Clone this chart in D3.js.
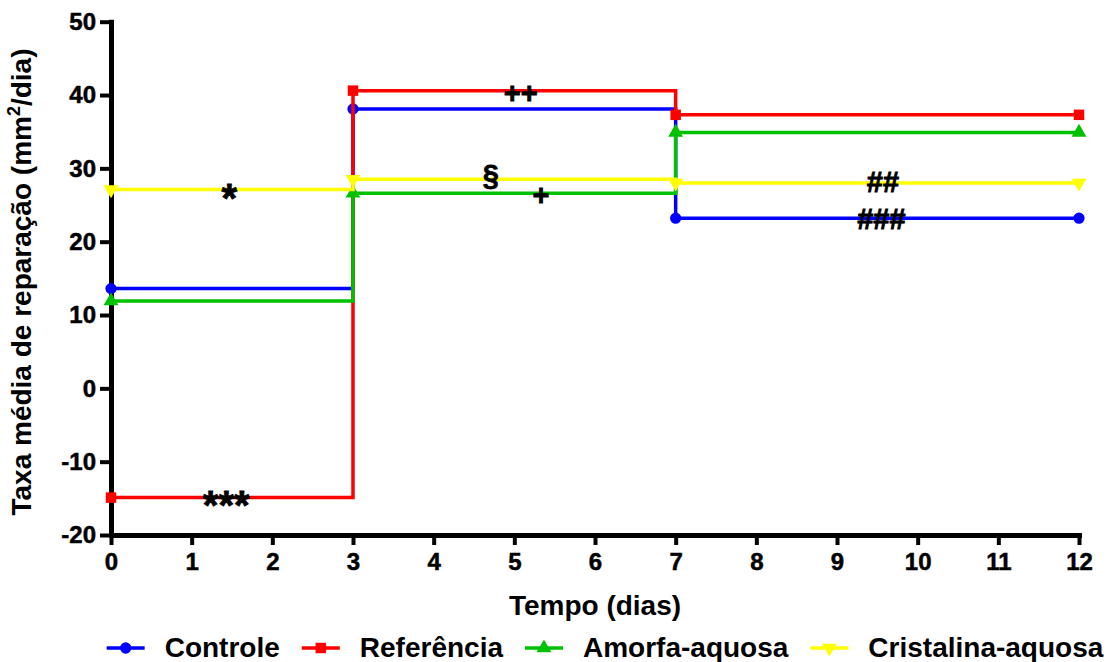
<!DOCTYPE html>
<html>
<head>
<meta charset="utf-8">
<script src="https://cdn.jsdelivr.net/npm/d3@7"></script>
<style>
  html, body { margin: 0; padding: 0; background: #fff; }
  svg { display: block; }
  text { font-family: "Liberation Sans", Arial, sans-serif; font-weight: bold; fill: #000; }
</style>
</head>
<body>
<svg id="chart" width="1108" height="662"></svg>
<script>
// Days of measurement
const days = [0, 3, 7, 12];

// Mean repair rate (mm²/day) per group at each day
const controle   = [13.6, 38.1, 23.2, 23.2];
const referencia = [-14.9, 40.6, 37.3, 37.3];
const amorfa     = [11.9, 26.6, 34.9, 34.9];
const cristalina = [27.1, 28.5, 28.0, 28.0];

const seriesNames = ["Controle", "Referência", "Amorfa-aquosa", "Cristalina-aquosa"];
const seriesValues = [controle, referencia, amorfa, cristalina];

// Axis ticks
const xTicks = [0, 1, 2, 3, 4, 5, 6, 7, 8, 9, 10, 11, 12];
const yTicks = [-20, -10, 0, 10, 20, 30, 40, 50];

// Significance marks: label, day, value (text baseline)
const markLabels = ["*", "***", "++", "§", "+", "##", "###"];
const markX      = [1.466, 1.428, 5.08, 4.71, 5.33, 9.57, 9.55];
const markY      = [24.05, -17.8, 38.9, 27.7, 25.0, 26.8, 21.7];

// Styling
const colors = ["#0000FF", "#FF0000", "#00C000", "#FFFF00"];
const symbols = [d3.symbolCircle, d3.symbolSquare, d3.symbolTriangle, "down"];

const svg = d3.select("#chart");

const x = d3.scaleLinear().domain([0, 12]).range([111, 1079]);
const y = d3.scaleLinear().domain([-20, 50]).range([535, 21.7]);

function markerPath(sym) {
  if (sym === "down") return d3.symbol().type(d3.symbolTriangle).size(95)();
  if (sym === d3.symbolCircle) return d3.symbol().type(sym).size(100)();
  if (sym === d3.symbolSquare) return d3.symbol().type(sym).size(110)();
  return d3.symbol().type(sym).size(95)();
}
function markerTransform(sym, cx, cy) {
  let t = `translate(${cx},${cy})`;
  if (sym === "down") t += " rotate(180)";
  return t;
}

// Axes (plain hyphen for negatives)
const fmt = d => String(d);
const yAxis = d3.axisLeft(y).tickValues(yTicks).tickFormat(fmt).tickSize(11).tickSizeOuter(0).tickPadding(4);
const xAxis = d3.axisBottom(x).tickValues(xTicks).tickFormat(fmt).tickSize(10).tickSizeOuter(0).tickPadding(8);

const gy = svg.append("g").attr("transform", "translate(111,0)").call(yAxis);
const gx = svg.append("g").attr("transform", "translate(0,535)").call(xAxis);

[gx, gy].forEach(g => {
  g.select(".domain").attr("stroke", "#000").attr("stroke-width", 5).attr("stroke-linecap", "square");
  g.selectAll(".tick line").attr("stroke", "#000").attr("stroke-width", 4);
  g.selectAll(".tick text")
    .style("font-family", '"Liberation Sans", Arial, sans-serif')
    .style("font-weight", "bold")
    .style("font-size", "24px")
    .attr("fill", "#000")
    .attr("stroke", "#000")
    .attr("stroke-width", 0.5);
});

// Step lines
const line = d3.line()
  .x(d => x(d[0]))
  .y(d => y(d[1]))
  .curve(d3.curveStepAfter);

seriesValues.forEach((vals, i) => {
  const pts = days.map((d, j) => [d, vals[j]]);
  const g = svg.append("g");
  g.append("path")
    .attr("d", line(pts))
    .attr("fill", "none")
    .attr("stroke", colors[i])
    .attr("stroke-width", 3.5);
  g.selectAll("path.pt")
    .data(pts)
    .join("path")
    .attr("class", "pt")
    .attr("d", markerPath(symbols[i]))
    .attr("transform", d => markerTransform(symbols[i], x(d[0]), y(d[1])))
    .attr("fill", colors[i]);
});

// Significance marks (asterisks drawn larger, they are a small glyph)
svg.append("g")
  .selectAll("text")
  .data(markLabels)
  .join("text")
  .attr("x", (d, i) => x(markX[i]))
  .attr("y", (d, i) => y(markY[i]))
  .attr("text-anchor", "middle")
  .attr("stroke", "#000")
  .attr("stroke-width", 0.8)
  .style("font-size", d => d.includes("*") ? "40px" : "29px")
  .text(d => d);

// Axis titles
svg.append("text")
  .attr("x", 595)
  .attr("y", 615)
  .attr("text-anchor", "middle")
  .style("font-size", "28px")
  .text("Tempo (dias)");

const yt = svg.append("text")
  .attr("transform", "translate(31,282) rotate(-90)")
  .attr("text-anchor", "middle")
  .style("font-size", "28px");
yt.append("tspan").text("Taxa média de reparação (mm");
yt.append("tspan").attr("dy", -11).style("font-size", "18px").text("2");
yt.append("tspan").attr("dy", 11).text("/dia)");

// Legend
const legend = svg.append("g");
const lineLen = 38, textGap = 20, itemGap = 22;
let cursor = 0;
const items = seriesNames.map((name, i) => {
  const g = legend.append("g");
  g.append("line")
    .attr("x1", 0).attr("x2", lineLen)
    .attr("y1", 0).attr("y2", 0)
    .attr("stroke", colors[i]).attr("stroke-width", 3.5);
  g.append("path")
    .attr("d", markerPath(symbols[i]))
    .attr("transform", markerTransform(symbols[i], lineLen / 2, 0))
    .attr("fill", colors[i]);
  const t = g.append("text")
    .attr("x", lineLen + textGap)
    .attr("y", 9)
    .style("font-size", "28px")
    .text(name);
  const w = lineLen + textGap + t.node().getComputedTextLength();
  const item = { g, start: cursor };
  cursor += w + itemGap;
  return item;
});
const totalW = cursor - itemGap;
const left = 605 - totalW / 2;
items.forEach(it => it.g.attr("transform", `translate(${left + it.start},648)`));
</script>
</body>
</html>
